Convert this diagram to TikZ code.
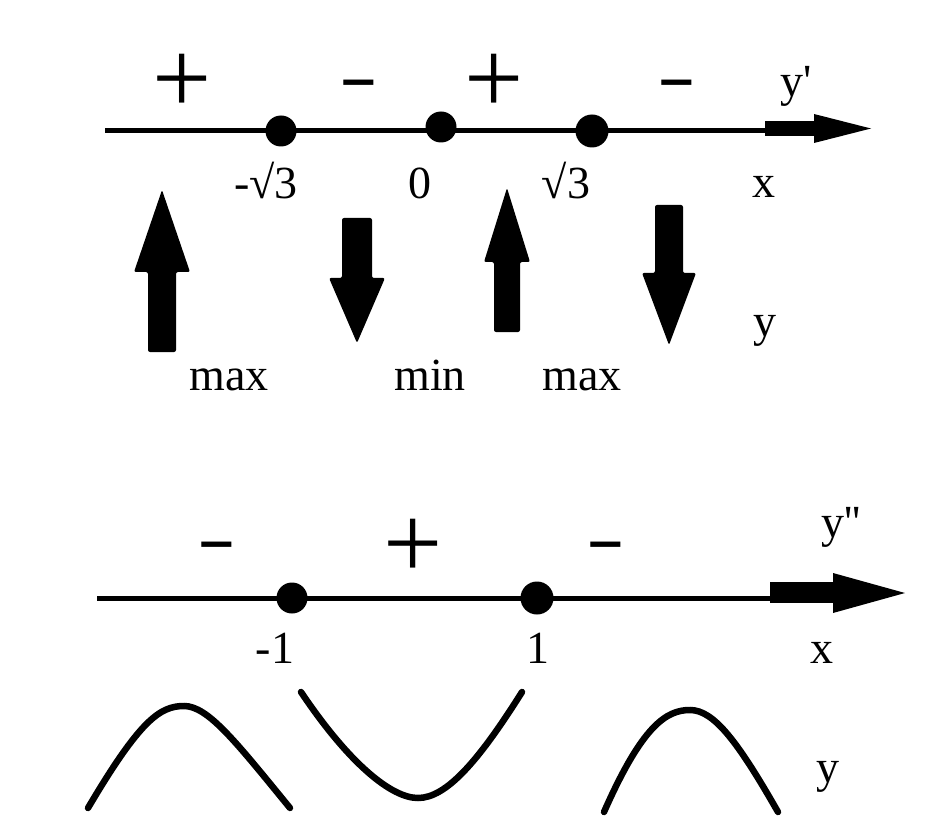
\documentclass[tikz,border=0pt]{standalone}
\usepackage{fontspec}
\setmainfont{Liberation Serif}
\usepackage{tikz}
\usetikzlibrary{positioning}
\tikzset{
  signe/.style={font=\fontsize{105}{105}\selectfont, anchor=base, inner sep=0pt},
  moins/.style={font=\fontsize{89}{89}\selectfont, anchor=base, inner sep=0pt},
  etiq/.style={font=\fontsize{46}{50}\selectfont, anchor=base, inner sep=0pt},
  point/.style={circle, fill=black, inner sep=0pt, minimum size=#1},
  point/.default=31pt,
  axe/.style={line width=5pt},
  courbe/.style={line width=6.5pt, line cap=round}
}
\newcommand{\tiret}{\scalebox{1.3}[0.8]{-}}
\begin{document}
\begin{tikzpicture}[x=1pt,y=-1pt]
\useasboundingbox (0,0) rectangle (927,837);

% Axe de y'
\coordinate (debA) at (105,131);
\coordinate (finA) at (770,131);
\draw[axe] (debA) -- (finA);
\fill (765,121) rectangle (818,136);
\fill (814,114) -- (871,128.5) -- (814,143) -- cycle;
\node[point] (pA) at (281,131) {};
\node[point] (pB) at (441,127) {};
\node[point=33pt] (pC) at (592,131) {};

% Signes de y'
\node[signe] (s1) at (182,114) {+};
\node[moins] (s2) at (359,100) {\tiret};
\node[signe] (s3) at (494,114) {+};
\node[moins] (s4) at (677,100) {\tiret};
\node[etiq] (yp) at (796,97) {y\textquotesingle};

% Valeurs sur l'axe
\node[etiq] (vA) at (266,199) {-√3};
\node[etiq] (vB) at (420,199) {0};
\node[etiq] (vC) at (566,199) {√3};
\node[etiq] (xA) at (764,198) {x};

% Grosses fleches (sens de variation)
\fill[rounded corners=2pt] (148,352) -- (148,272) -- (134,272) -- (162,190) -- (190,272) -- (176,272) -- (176,352) -- cycle;
\fill[rounded corners=2pt] (342,218) -- (342,278) -- (329,278) -- (357,343) -- (385,278) -- (372,278) -- (372,218) -- cycle;
\fill[rounded corners=2pt] (494,332) -- (494,262) -- (484,262) -- (507,188) -- (530,262) -- (520,262) -- (520,332) -- cycle;
\fill[rounded corners=2pt] (655,205) -- (655,273) -- (642,273) -- (669,345) -- (696,273) -- (683,273) -- (683,205) -- cycle;
\node[etiq] (yA) at (765,337) {y};

% Extremums
\node[etiq] (m1) at (229,390) {max};
\node[etiq] (m2) at (430,390) {min};
\node[etiq] (m3) at (582,390) {max};

% Axe de y''
\coordinate (debB) at (97,598);
\coordinate (finB) at (775,598);
\draw[axe] (debB) -- (finB);
\fill (770,582) rectangle (838,603);
\fill (833,573) -- (905,593) -- (833,613) -- cycle;
\node[point] (pD) at (292,598) {};
\node[point=33pt] (pE) at (537,598) {};

% Signes de y''
\node[moins] (s5) at (217,561) {\tiret};
\node[signe] (s6) at (413,578) {+};
\node[moins] (s7) at (606,561) {\tiret};
\node[etiq] (ys) at (841,537) {y\textquotesingle\textquotesingle};

% Valeurs sur l'axe
\node[etiq] (vD) at (275,663) {-1};
\node[etiq] (vE) at (538,663) {1};
\node[etiq] (xB) at (822,663) {x};

% Concavite
\draw[courbe] (88,808) .. controls (140,720) and (160,706) .. (184,706)
  .. controls (208,706) and (236,742) .. (290,808);
\draw[courbe] (301,692) .. controls (350,765) and (392,798) .. (418,798)
  .. controls (446,798) and (478,762) .. (522,692);
\draw[courbe] (604,812) .. controls (642,726) and (666,710) .. (690,710)
  .. controls (714,710) and (738,742) .. (778,812);
\node[etiq] (yB) at (828,782) {y};
\end{tikzpicture}
\end{document}
